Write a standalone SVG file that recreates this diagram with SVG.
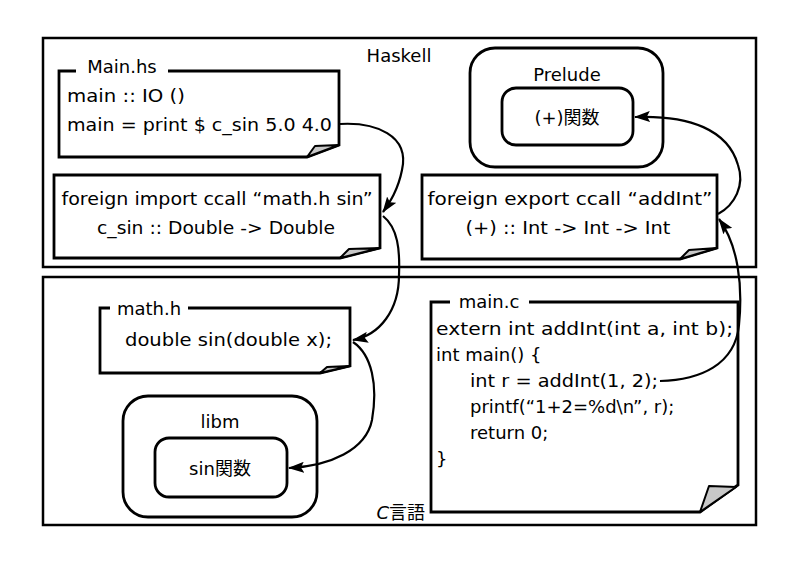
<svg xmlns="http://www.w3.org/2000/svg" width="800" height="566" viewBox="0 0 800 566">
<defs>
<marker id="arr" viewBox="0 0 16 11" refX="15" refY="5.5" markerWidth="16" markerHeight="11" markerUnits="userSpaceOnUse" orient="auto">
<path d="M0,0 L16,5.5 L0,11 L3,5.5 z" fill="#000"/>
</marker>
<style>
text{font-family:"DejaVu Sans","Noto Sans CJK JP",sans-serif;font-size:18px;fill:#000}
.frame{fill:none;stroke:#000;stroke-width:2.5}
.note{fill:#fff;stroke:#000;stroke-width:2.8;stroke-linejoin:miter}
.curl{fill:#c8c8c8;stroke:#000;stroke-width:2;stroke-linejoin:round}
.rr{fill:#fff;stroke:#000;stroke-width:2.8}
.c{text-anchor:middle}
.conn{fill:none;stroke:#000;stroke-width:2.2;marker-end:url(#arr)}
</style>
</defs>
<rect width="800" height="566" fill="#fff"/>

<g id="haskell-frame">
<rect class="frame" x="43" y="38" width="713" height="229"/>
<text class="c" x="399" y="62">Haskell</text>
</g>
<g id="c-frame">
<rect class="frame" x="43" y="277" width="713" height="248"/>
<text x="425" y="519" text-anchor="end"><tspan font-style="italic">C</tspan>言語</text>
</g>

<g id="main-hs">
<path class="note" d="M76,71 L59,71 L59,157 L307,157 L339,145 L339,71 L168,71"/>
<path class="curl" d="M307,157 L315,146 L339,145 Z"/>
<text class="c" x="122" y="73">Main.hs</text>
<text x="67" y="102" textLength="118" lengthAdjust="spacingAndGlyphs">main :: IO ()</text>
<text x="67" y="131" textLength="265" lengthAdjust="spacingAndGlyphs">main = print $ c_sin 5.0 4.0</text>
</g>

<g id="foreign-import">
<path class="note" d="M54,175 L380,175 L380,248 L340,258 L54,258 Z"/>
<path class="curl" d="M340,258 L349,249 L380,248 Z"/>
<text class="c" x="217" y="205" textLength="311" lengthAdjust="spacingAndGlyphs">foreign import ccall “math.h sin”</text>
<text class="c" x="216" y="234" textLength="238" lengthAdjust="spacingAndGlyphs">c_sin :: Double -&gt; Double</text>
</g>

<g id="prelude">
<rect class="rr" x="470" y="48" width="193" height="119" rx="25"/>
<text class="c" x="567" y="81">Prelude</text>
</g>
<g id="plus-func">
<rect class="rr" x="502" y="88" width="131" height="57" rx="14"/>
<text class="c" x="567" y="124">(+)関数</text>
</g>

<g id="foreign-export">
<path class="note" d="M422,175 L717,175 L717,248 L680,259 L422,259 Z"/>
<path class="curl" d="M680,259 L689,250 L717,248 Z"/>
<text class="c" x="570" y="205" textLength="285" lengthAdjust="spacingAndGlyphs">foreign export ccall “addInt”</text>
<text class="c" x="568" y="234" textLength="205" lengthAdjust="spacingAndGlyphs">(+) :: Int -&gt; Int -&gt; Int</text>
</g>

<g id="math-h">
<path class="note" d="M110,308 L100,308 L100,373 L320,373 L350,366 L350,308 L188,308"/>
<path class="curl" d="M320,373 L327,367 L350,366 Z"/>
<text class="c" x="149" y="315">math.h</text>
<text x="125" y="346" textLength="207" lengthAdjust="spacingAndGlyphs">double sin(double x);</text>
</g>

<g id="libm">
<rect class="rr" x="123" y="396" width="194" height="121" rx="25"/>
<text class="c" x="220" y="428">libm</text>
</g>
<g id="sin-func">
<rect class="rr" x="155" y="438" width="132" height="59" rx="14"/>
<text class="c" x="220" y="475">sin関数</text>
</g>

<g id="main-c">
<path class="note" d="M450,302 L431,302 L431,512 L700,512 L738,485 L738,302 L529,302"/>
<path class="curl" d="M700,512 L709,486 L736,487 Z"/>
<text class="c" x="489" y="308">main.c</text>
<text x="436" y="335" textLength="297" lengthAdjust="spacingAndGlyphs">extern int addInt(int a, int b);</text>
<text x="436" y="361">int main() {</text>
<text x="470" y="387" textLength="188" lengthAdjust="spacingAndGlyphs">int r = addInt(1, 2);</text>
<text x="470" y="413">printf(“1+2=%d\n”, r);</text>
<text x="470" y="439">return 0;</text>
<text x="436" y="465">}</text>
</g>

<g id="connectors">
<path class="conn" d="M340,124 C375,122 410,135 402,170 C398,190 390,202 383,212"/>
<path class="conn" d="M383,216 C398,228 400,250 399,275 C399,310 380,335 353,340"/>
<path class="conn" d="M353,342 C372,355 378,385 372,420 C366,450 330,466 289,468"/>
<path class="conn" d="M660,381 C700,380 735,365 739,325 C743,285 738,245 719,219"/>
<path class="conn" d="M718,214 C735,205 745,185 738,165 C728,130 690,115 635,117"/>
</g>
</svg>
